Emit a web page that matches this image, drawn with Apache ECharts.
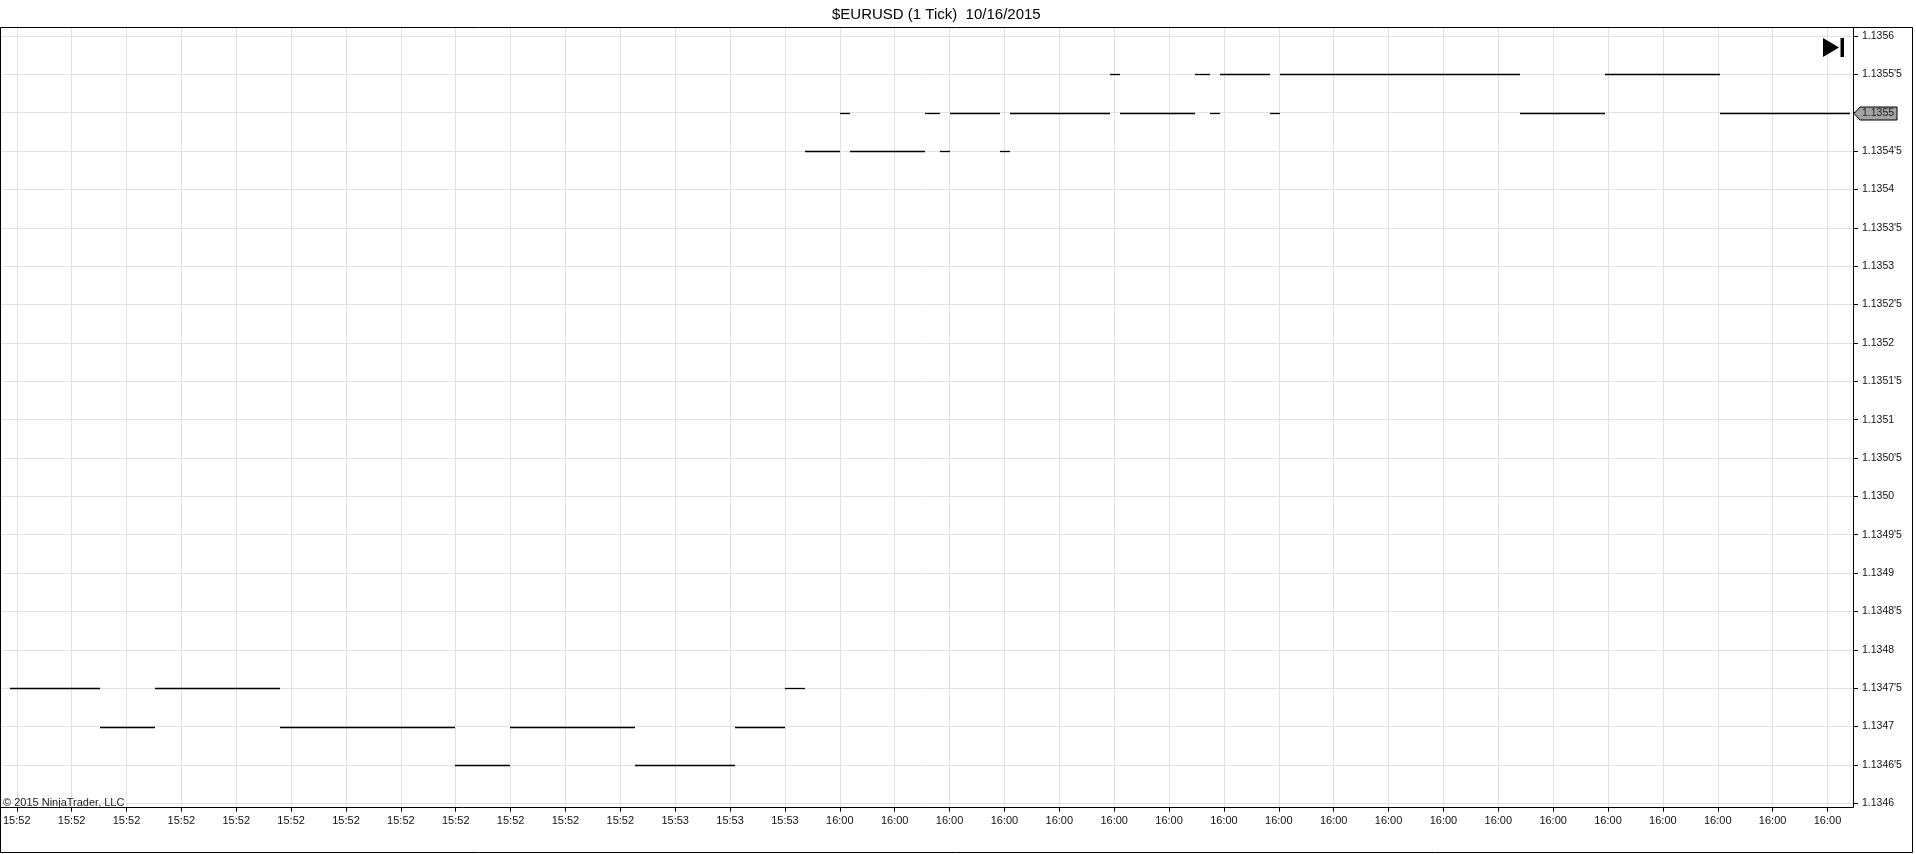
<!DOCTYPE html>
<html>
<head>
<meta charset="utf-8">
<script src="https://cdn.jsdelivr.net/npm/echarts@6/dist/echarts.min.js"></script>
<style>
html,body{margin:0;padding:0;background:#fff;}
#c{width:1916px;height:854px;}
</style>
</head>
<body>
<div id="c"></div>
<script>
// ---- data ----
var chartTitle = '$EURUSD (1 Tick)  10/16/2015';
// consecutive tick runs: price level and number of ticks at that level
var runPrices = [1.13475, 1.1347, 1.13475, 1.1347, 1.13465, 1.1347, 1.13465, 1.1347, 1.13475,
                 1.13545, 1.1355, 1.13545, 1.1355, 1.13545, 1.1355, 1.13545, 1.1355, 1.13555,
                 1.1355, 1.13555, 1.1355, 1.13555, 1.1355, 1.13555, 1.1355, 1.13555, 1.1355];
var runLengths = [18, 11, 25, 35, 11, 25, 20, 10, 4,
                  7, 2, 15, 3, 2, 10, 2, 20, 2,
                  15, 3, 2, 10, 2, 48, 17, 23, 26];
// x-axis time labels, one every 11 ticks
var xLabels = ['15:52','15:52','15:52','15:52','15:52','15:52','15:52','15:52','15:52','15:52','15:52','15:52',
               '15:53','15:53','15:53',
               '16:00','16:00','16:00','16:00','16:00','16:00','16:00','16:00','16:00','16:00',
               '16:00','16:00','16:00','16:00','16:00','16:00','16:00','16:00','16:00'];
var labelEvery = 11;
var yMin = 1.1346, yMax = 1.1356, yStep = 0.00005;
var copyright = '\u00a9 2015 NinjaTrader, LLC';

// ---- build ----
var segs = [];
var pos = 0;
for (var i = 0; i < runPrices.length; i++) {
  segs.push([pos, pos + runLengths[i], runPrices[i]]);
  pos += runLengths[i];
}
var totalTicks = pos;
var lastPrice = runPrices[runPrices.length - 1];

function fmtPrice(v) {
  var n = Math.round(v / yStep);
  var base = (Math.floor(n / 2) / 10000).toFixed(4);
  return (n % 2) ? base + "'5" : base;
}

var FONT = '"Liberation Sans", Arial, sans-serif';
var chart = echarts.init(document.getElementById('c'));
chart.setOption({
  animation: false,
  backgroundColor: '#fff',
  title: {
    text: chartTitle, left: 827, top: 2,
    textStyle: {fontFamily: FONT, fontSize: 15, fontWeight: 'normal', color: '#000'}
  },
  grid: [
    {left: 0, right: 63, top: 36, bottom: 50.7, containLabel: false},
    {left: 12.5, right: 88.5, top: 27, bottom: 46.3, containLabel: false}
  ],
  xAxis: [
    {type: 'value', gridIndex: 0, min: -2.5, max: 368.1, show: false},
    {type: 'value', gridIndex: 1, min: 0, max: (xLabels.length - 1) * labelEvery, interval: labelEvery,
     position: 'bottom',
     axisLine: {show: false, onZero: false},
     axisTick: {show: true, length: 4, lineStyle: {color: '#000'}},
     axisLabel: {margin: 8, fontFamily: FONT, fontSize: 11, color: '#111',
       alignMinLabel: 'center', alignMaxLabel: 'center', hideOverlap: false,
       formatter: function (v) { return xLabels[Math.round(v / labelEvery)] || ''; }},
     splitLine: {show: true, lineStyle: {color: '#e2e2e2', width: 1}}}
  ],
  yAxis: [
    {type: 'value', gridIndex: 0, min: yMin, max: yMax, interval: yStep, position: 'right',
     axisLine: {show: false, onZero: false},
     axisTick: {show: true, length: 5, lineStyle: {color: '#000'}},
     axisLabel: {margin: 9, fontFamily: FONT, fontSize: 10.5, color: '#111', formatter: fmtPrice},
     splitLine: {show: true, lineStyle: {color: '#e2e2e2', width: 1}}},
    {type: 'value', gridIndex: 1, show: false, min: 0, max: 1, axisLine: {onZero: false}}
  ],
  series: [
    {
      type: 'custom', xAxisIndex: 0, yAxisIndex: 0, clip: false,
      encode: {x: [0, 1], y: 2},
      data: segs,
      renderItem: function (params, api) {
        var a = api.coord([api.value(0) - 0.5, api.value(2)]);
        var b = api.coord([api.value(1) - 0.5, api.value(2)]);
        var y = Math.round(a[1]) + 0.5;
        return {type: 'line', shape: {x1: a[0], y1: y, x2: b[0], y2: y},
                style: {stroke: '#000', lineWidth: 1.3}};
      }
    },
    {
      type: 'custom', xAxisIndex: 0, yAxisIndex: 0, clip: false, z: 10,
      encode: {x: 0, y: 1},
      data: [[totalTicks - 1, lastPrice]],
      renderItem: function (params, api) {
        var p = api.coord([api.value(0), api.value(1)]);
        var x0 = params.coordSys.x + params.coordSys.width + 1;
        var y = Math.round(p[1]) + 0.5;
        return {type: 'group', children: [
          {type: 'polygon', shape: {points: [[x0, y], [x0 + 6, y - 6.5], [x0 + 43, y - 6.5], [x0 + 43, y + 6.5], [x0 + 6, y + 6.5]]},
           style: {fill: '#a3a3a3', stroke: '#000', lineWidth: 1}},
          {type: 'text', x: x0 + 8, y: y, style: {text: fmtPrice(api.value(1)), fill: '#222',
           font: '10.5px ' + FONT, textVerticalAlign: 'middle', verticalAlign: 'middle'}}
        ]};
      }
    }
  ],
  graphic: [
    {type: 'rect', shape: {x: 0.5, y: 27.5, width: 1912, height: 825}, style: {fill: 'none', stroke: '#000', lineWidth: 1}, z: 100},
    {type: 'line', shape: {x1: 1853.5, y1: 27.5, x2: 1853.5, y2: 807.5}, style: {stroke: '#000', lineWidth: 1}, z: 100},
    {type: 'line', shape: {x1: 0.5, y1: 807.5, x2: 1853.5, y2: 807.5}, style: {stroke: '#000', lineWidth: 1}, z: 100},
    {type: 'polygon', shape: {points: [[1823, 38], [1823, 57], [1839, 47.5]]}, style: {fill: '#000'}, z: 100},
    {type: 'rect', shape: {x: 1840.5, y: 38, width: 3.5, height: 19}, style: {fill: '#000'}, z: 100},
    {type: 'text', x: 3, y: 803, style: {text: copyright, fill: '#222', font: '11px ' + FONT, verticalAlign: 'middle', textVerticalAlign: 'middle'}, z: 100}
  ]
});
</script>
</body>
</html>
